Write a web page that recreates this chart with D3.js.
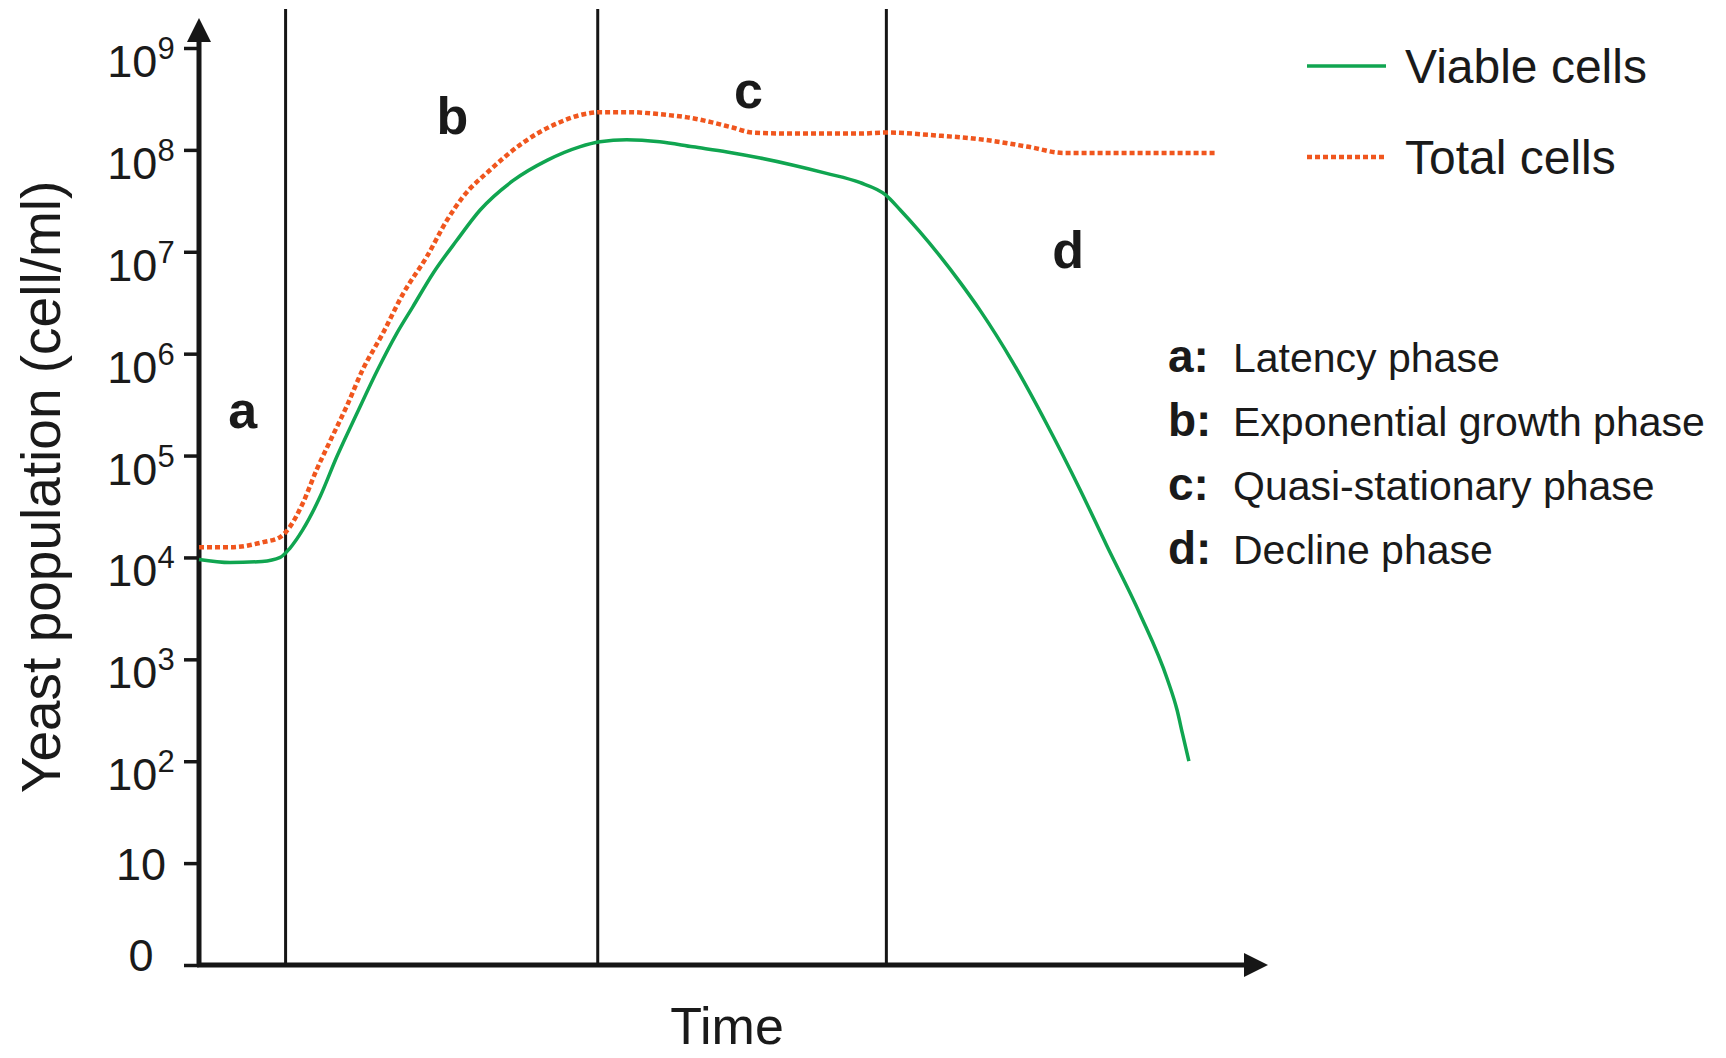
<!DOCTYPE html>
<html>
<head>
<meta charset="utf-8">
<script src="https://cdn.jsdelivr.net/npm/d3@7"></script>
<style>
body { margin: 0; background: #fff; }
text { font-family: "Liberation Sans", Arial, sans-serif; fill: #1a1a1a; }
</style>
</head>
<body>
<script>
var width = 1726, height = 1058

// time in arbitrary units (no scale on the axis), population as log10(cell/ml)
var viableTime = [0, 2.9, 5.9, 7.6, 8.5, 9.7, 11.3, 12.9, 14.8, 16.7, 18.5, 20.0, 21.9, 24.1, 26.3, 29.4, 32.6, 35.6, 37.5, 40.0, 43.1, 46.2, 49.4, 52.5, 55.6, 58.7, 61.8, 64.2, 65.6, 67.4, 69.3, 71.2, 73.1, 76.1, 79.3, 82.4, 84.9, 88.0, 90.6, 91.5, 92.0, 92.6]
var viableLog = [3.98, 3.95, 3.96, 4.00, 4.09, 4.27, 4.59, 4.99, 5.42, 5.84, 6.20, 6.46, 6.79, 7.11, 7.41, 7.70, 7.90, 8.03, 8.08, 8.10, 8.08, 8.03, 7.98, 7.92, 7.85, 7.77, 7.68, 7.56, 7.41, 7.20, 6.96, 6.70, 6.42, 5.92, 5.31, 4.67, 4.12, 3.45, 2.80, 2.50, 2.27, 2.00]

var totalTime = [0, 2.9, 6.0, 7.6, 8.5, 9.7, 11.0, 12.3, 13.8, 15.3, 17.2, 19.1, 21.3, 23.2, 24.7, 27.2, 30.3, 33.5, 35.6, 37.5, 40.3, 43.1, 46.2, 48.0, 49.9, 51.8, 55.6, 61.8, 64.2, 69.2, 73.4, 77.6, 80.9, 86.0, 95.1]
var totalLog = [4.10, 4.10, 4.15, 4.20, 4.30, 4.53, 4.86, 5.15, 5.48, 5.84, 6.20, 6.59, 6.95, 7.31, 7.54, 7.80, 8.07, 8.26, 8.34, 8.37, 8.37, 8.35, 8.31, 8.27, 8.22, 8.17, 8.16, 8.16, 8.17, 8.14, 8.10, 8.03, 7.97, 7.97, 7.97]

var phaseBounds = [8.1, 37.3, 64.3]
var phaseLetters = ["a", "b", "c", "d"]
var phaseLetterTime = [4.1, 23.7, 51.4, 81.3]
var phaseLetterLog = [5.27, 8.16, 8.41, 6.84]
var phaseNames = ["Latency phase", "Exponential growth phase", "Quasi-stationary phase", "Decline phase"]

var seriesNames = ["Viable cells", "Total cells"]
var tickExps = [0, 1, 2, 3, 4, 5, 6, 7, 8, 9]

var green = "#10a550"
var red = "#f0561e"
var ink = "#161616"

var svg = d3.select("body")
.append("svg")
.attr("width", width)
.attr("height", height)

var x = d3.scaleLinear()
.domain([0, 100])
.range([199, 1268])

var y = d3.scaleLinear()
.domain([0, 9])
.range([965, 48])

//phase separators
svg.selectAll(".phaseLine")
.data(phaseBounds)
.enter()
.append("line")
.attr("class", "phaseLine")
.attr("x1", d => x(d))
.attr("x2", d => x(d))
.attr("y1", 9)
.attr("y2", y(0))
.attr("stroke", ink)
.attr("stroke-width", 3)

//y axis ticks
var yAxis = d3.axisLeft(y)
.tickValues(tickExps)
.tickSize(15)
.tickFormat("")

var gy = svg.append("g")
.attr("transform", "translate(" + x(0) + ",0)")
.call(yAxis)
gy.select(".domain").remove()
gy.selectAll(".tick line")
.attr("stroke", ink)
.attr("stroke-width", 3.5)

//tick labels: 0, 10, 10^n
var labels = svg.selectAll(".yLabel")
.data(tickExps)
.enter()
.append("text")
.attr("class", "yLabel")
.attr("text-anchor", "middle")
.attr("x", 141)
.attr("y", function(n) {
	if (n == 0) return y(n) + 6
	if (n == 1) return y(n) + 17
	return y(n) + 29
})
.style("font-size", "45px")

labels.append("tspan")
.text(n => n == 0 ? "0" : "10")

labels.filter(n => n > 1)
.append("tspan")
.attr("dy", -18)
.style("font-size", "31px")
.text(n => n)

//axis lines with arrow heads
svg.append("line")
.attr("x1", x(0)).attr("x2", x(0))
.attr("y1", y(0) + 2).attr("y2", 38)
.attr("stroke", ink)
.attr("stroke-width", 5)

svg.append("path")
.attr("d", "M" + x(0) + ",18 L" + (x(0) + 12) + ",42 L" + (x(0) - 12) + ",42 Z")
.attr("fill", ink)

svg.append("line")
.attr("x1", x(0) - 2).attr("x2", x(100) - 18)
.attr("y1", y(0)).attr("y2", y(0))
.attr("stroke", ink)
.attr("stroke-width", 5)

svg.append("path")
.attr("d", "M" + x(100) + "," + y(0) + " L" + (x(100) - 24) + "," + (y(0) - 12) + " L" + (x(100) - 24) + "," + (y(0) + 12) + " Z")
.attr("fill", ink)

//curves
var line = d3.line()
.x(d => x(d[0]))
.y(d => y(d[1]))
.curve(d3.curveMonotoneX)

svg.append("path")
.datum(totalTime.map((t, i) => [t, totalLog[i]]))
.attr("d", line)
.attr("fill", "none")
.attr("stroke", red)
.attr("stroke-width", 4.5)
.attr("stroke-dasharray", "5,3")

svg.append("path")
.datum(viableTime.map((t, i) => [t, viableLog[i]]))
.attr("d", line)
.attr("fill", "none")
.attr("stroke", green)
.attr("stroke-width", 3.5)

//phase letters on the plot
svg.selectAll(".phaseLetter")
.data(phaseLetters)
.enter()
.append("text")
.attr("class", "phaseLetter")
.attr("text-anchor", "middle")
.attr("x", (d, i) => x(phaseLetterTime[i]))
.attr("y", (d, i) => y(phaseLetterLog[i]))
.style("font-size", "52px")
.style("font-weight", "bold")
.text(d => d)

//axis titles
svg.append("text")
.attr("text-anchor", "middle")
.attr("transform", "translate(60,487) rotate(-90)")
.style("font-size", "55px")
.text("Yeast population (cell/ml)")

svg.append("text")
.attr("text-anchor", "middle")
.attr("x", 727)
.attr("y", 1044)
.style("font-size", "52px")
.text("Time")

//series legend
var legend = svg.selectAll(".legend")
.data(seriesNames)
.enter()
.append("g")
.attr("class", "legend")
.attr("transform", (d, i) => "translate(1307," + (66 + i * 91) + ")")

legend.append("line")
.attr("x1", 0).attr("x2", 79)
.attr("y1", 0).attr("y2", 0)
.attr("stroke", (d, i) => i == 0 ? green : red)
.attr("stroke-width", (d, i) => i == 0 ? 3.5 : 4.5)
.attr("stroke-dasharray", (d, i) => i == 0 ? null : "5,3")

legend.append("text")
.attr("x", 98)
.attr("y", 17)
.style("font-size", "48px")
.text(d => d)

//phase legend
var phaseLegend = svg.selectAll(".phaseLegend")
.data(phaseNames)
.enter()
.append("g")
.attr("class", "phaseLegend")
.attr("transform", (d, i) => "translate(1168," + (372 + i * 64) + ")")

phaseLegend.append("text")
.style("font-size", "46px")
.style("font-weight", "bold")
.text((d, i) => phaseLetters[i] + ":")

phaseLegend.append("text")
.attr("x", 65)
.style("font-size", "41px")
.text(d => d)
</script>
</body>
</html>
